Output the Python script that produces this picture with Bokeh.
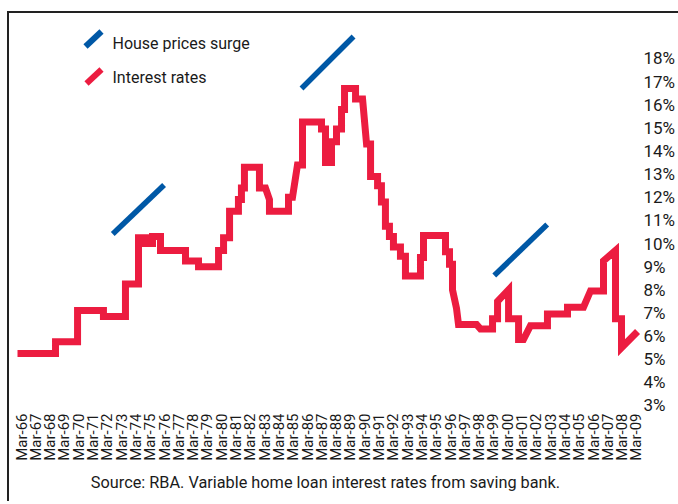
import math
from bokeh.plotting import figure
from bokeh.models import (FixedTicker, LinearAxis, Range1d, Title, Label, Arrow,
                          ColumnDataSource)
from bokeh.embed import file_html
from bokeh.resources import INLINE

# ---- data -------------------------------------------------------------
rate_year = [1965.72, 1968.38, 1968.38, 1969.92, 1969.92, 1971.73, 1971.73, 1973.27,
             1973.27, 1974.18, 1974.18, 1974.67, 1974.67, 1975.16, 1975.16, 1975.72,
             1975.72, 1977.47, 1977.47, 1978.38, 1978.38, 1979.78, 1979.78, 1980.13,
             1980.13, 1980.55, 1980.55, 1981.17, 1981.17, 1981.38, 1981.38, 1981.59,
             1981.59, 1982.64, 1982.64, 1983.06, 1983.34, 1983.34, 1984.67, 1984.67,
             1984.95, 1985.30, 1985.65, 1985.65, 1986.98, 1986.98, 1987.26, 1987.26,
             1987.68, 1987.68, 1988.03, 1988.03, 1988.38, 1988.38, 1988.59, 1988.59,
             1989.36, 1989.36, 1989.85, 1990.13, 1990.41, 1990.41, 1990.90, 1990.90,
             1991.17, 1991.17, 1991.45, 1991.45, 1991.73, 1991.73, 1992.01, 1992.01,
             1992.50, 1992.50, 1992.85, 1992.85, 1993.90, 1993.90, 1994.11, 1994.11,
             1995.65, 1995.65, 1995.93, 1995.93, 1996.14, 1996.14, 1996.42, 1996.56,
             1997.82, 1998.10, 1998.94, 1998.94, 1999.29, 1999.29, 2000.06, 2000.06,
             2000.76, 2000.76, 2001.10, 2001.59, 2002.78, 2002.78, 2004.18, 2004.18,
             2005.30, 2005.79, 2006.70, 2006.70, 2007.54, 2007.54, 2007.96, 2007.96,
             2009.08]
rate_pct = [5.25, 5.25, 5.75, 5.75, 7.10, 7.10, 6.85, 6.85,
            8.25, 8.25, 10.25, 10.25, 10.00, 10.00, 10.30, 10.30,
            9.70, 9.70, 9.25, 9.25, 9.00, 9.00, 9.70, 9.70,
            10.25, 10.25, 11.40, 11.40, 11.90, 11.90, 12.40, 12.40,
            13.30, 13.30, 12.40, 12.40, 11.90, 11.40, 11.40, 12.00,
            12.00, 13.40, 13.40, 15.25, 15.25, 14.95, 14.95, 13.50,
            13.50, 14.40, 14.40, 14.95, 14.95, 15.80, 15.80, 16.70,
            16.70, 16.25, 16.25, 14.30, 14.30, 12.90, 12.90, 12.50,
            12.50, 11.80, 11.80, 10.75, 10.75, 10.30, 10.30, 9.85,
            9.85, 9.45, 9.45, 8.60, 8.60, 9.40, 9.40, 10.35,
            10.35, 9.65, 9.65, 9.10, 9.10, 8.00, 7.20, 6.50,
            6.50, 6.30, 6.30, 6.75, 6.75, 7.50, 8.00, 6.75,
            6.75, 5.85, 5.85, 6.45, 6.45, 6.95, 6.95, 7.25,
            7.25, 7.95, 7.95, 9.25, 9.70, 6.75, 6.75, 5.50,
            6.20]

surge_start_year = [1972.38, 1985.58, 1999.06]
surge_end_year = [1975.97, 1989.22, 2002.76]
surge_start_pct = [10.41, 16.70, 8.62]
surge_end_pct = [12.53, 18.95, 10.82]

tick_years = list(range(1966, 2010))
tick_labels = [f"Mar-{y % 100:02d}" for y in tick_years]
pct_ticks = list(range(3, 19))
pct_labels = [f"{v}%" for v in pct_ticks]

legend_labels = ["House prices surge", "Interest rates"]
caption = "Source: RBA. Variable home loan interest rates from saving bank."

# ---- style ------------------------------------------------------------
RED = "#EC1C40"
BLUE = "#0058A6"
FONT = "Roboto"
INK = "#1a1a1a"

p = figure(frame_width=632, frame_height=396,
           x_range=Range1d(1965.1608, 2009.3566),
           y_range=Range1d(2.825, 19.9455),
           output_backend="svg", toolbar_location=None,
           x_axis_location=None, y_axis_location=None,
           min_border_left=0, min_border_top=0, min_border_right=34,
           min_border_bottom=92)
p.grid.visible = False
p.outline_line_color = None
p.margin = (11, 0, 0, 7)
p.styles = {"border-top": "2px solid #222", "border-left": "2px solid #222"}

xaxis = LinearAxis(ticker=FixedTicker(ticks=tick_years),
                   major_label_overrides=dict(zip(tick_years, tick_labels)),
                   major_label_orientation=math.pi / 2,
                   axis_line_color=None, major_tick_line_color=None,
                   minor_tick_line_color=None, major_tick_out=0, minor_tick_out=0,
                   major_tick_in=0, minor_tick_in=0, major_label_standoff=4,
                   major_label_text_font=FONT, major_label_text_font_size="15px",
                   major_label_text_color=INK)
p.add_layout(xaxis, "below")

yaxis = LinearAxis(ticker=FixedTicker(ticks=pct_ticks),
                   major_label_overrides=dict(zip(pct_ticks, pct_labels)),
                   axis_line_color=None, major_tick_line_color=None,
                   minor_tick_line_color=None, major_tick_out=0, minor_tick_out=0,
                   major_tick_in=0, minor_tick_in=0, major_label_standoff=2,
                   major_label_text_font=FONT, major_label_text_font_size="17px",
                   major_label_text_color=INK)
p.add_layout(yaxis, "right")

p.add_layout(Title(text=caption, align="center", text_font=FONT,
                   text_font_size="16.3px", text_font_style="normal",
                   text_color=INK, standoff=14, offset=-5), "below")

surge_src = ColumnDataSource(dict(x0=surge_start_year, y0=surge_start_pct,
                                  x1=surge_end_year, y1=surge_end_pct))
p.segment("x0", "y0", "x1", "y1", source=surge_src, line_color=BLUE,
          line_width=5.5, line_cap="butt")

rate_src = ColumnDataSource(dict(x=rate_year, y=rate_pct))
p.line("x", "y", source=rate_src, line_color=RED, line_width=7,
       line_join="miter", line_cap="butt")

# ---- legend (diagonal strokes like the original) ------------------------
for (xs, ys, xe, ye), col in [((76, 363, 92, 378), BLUE), ((77, 326, 92, 340), RED)]:
    p.add_layout(Arrow(x_start=xs, y_start=ys, x_end=xe, y_end=ye,
                       start_units="screen", end_units="screen", end=None,
                       line_color=col, line_width=6, line_cap="butt"))
for text, ly in zip(legend_labels, [366, 332]):
    p.add_layout(Label(x=103, y=ly, x_units="screen", y_units="screen", text=text,
                       text_baseline="middle", text_font=FONT,
                       text_font_size="16px", text_color=INK))

open("out.html", "w").write(file_html(p, INLINE))
